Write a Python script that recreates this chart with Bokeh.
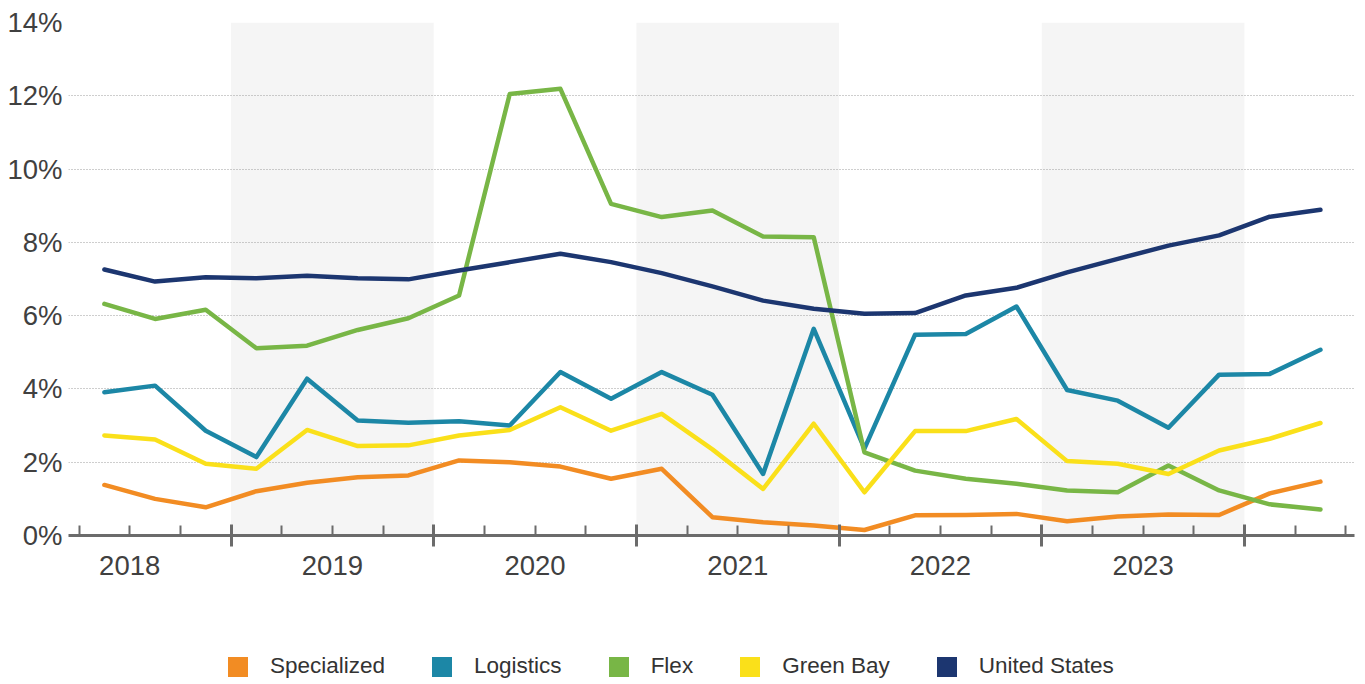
from bokeh.plotting import figure
from bokeh.layouts import column
from bokeh.models import (Range1d, FixedTicker, LinearAxis, PrintfTickFormatter,
                          CustomJSTickFormatter, BoxAnnotation, Legend, LegendItem)
from bokeh.embed import file_html
from bokeh.resources import INLINE

# ---------------- data ----------------
quarters = ["2018Q2", "2018Q3", "2018Q4",
            "2019Q1", "2019Q2", "2019Q3", "2019Q4",
            "2020Q1", "2020Q2", "2020Q3", "2020Q4",
            "2021Q1", "2021Q2", "2021Q3", "2021Q4",
            "2022Q1", "2022Q2", "2022Q3", "2022Q4",
            "2023Q1", "2023Q2", "2023Q3", "2023Q4",
            "2024Q1", "2024Q2"]

specialized = [1.38, 1.00, 0.77, 1.21, 1.44, 1.59, 1.64, 2.05, 2.00, 1.88, 1.55, 1.82,
               0.50, 0.36, 0.27, 0.15, 0.55, 0.56, 0.59, 0.39, 0.52, 0.57, 0.56, 1.15, 1.47]
logistics = [3.91, 4.09, 2.86, 2.14, 4.28, 3.14, 3.08, 3.12, 3.00, 4.46, 3.73, 4.46,
             3.84, 1.68, 5.64, 2.37, 5.48, 5.50, 6.25, 3.97, 3.68, 2.94, 4.39, 4.41, 5.07]
flex = [6.32, 5.91, 6.16, 5.11, 5.18, 5.61, 5.93, 6.55, 12.05, 12.19, 9.05, 8.69,
        8.87, 8.16, 8.14, 2.27, 1.77, 1.55, 1.41, 1.23, 1.18, 1.91, 1.23, 0.85, 0.71]
green_bay = [2.73, 2.62, 1.96, 1.82, 2.88, 2.44, 2.46, 2.73, 2.88, 3.50, 2.86, 3.32,
             2.35, 1.27, 3.05, 1.18, 2.85, 2.85, 3.18, 2.03, 1.96, 1.68, 2.32, 2.64, 3.07]
united_states = [7.26, 6.93, 7.05, 7.02, 7.09, 7.02, 6.99, 7.23, 7.46, 7.69, 7.46, 7.16,
                 6.80, 6.41, 6.19, 6.05, 6.07, 6.55, 6.76, 7.18, 7.55, 7.91, 8.19, 8.70, 8.89]

series_names = ["Specialized", "Logistics", "Flex", "Green Bay", "United States"]
series_values = [specialized, logistics, flex, green_bay, united_states]
series_colors = ["#F28C23", "#1C87A6", "#78B646", "#FAE01A", "#1C3670"]

year_labels = [2018, 2019, 2020, 2021, 2022, 2023]
shaded_years = [2019, 2021, 2023]
y_ticks = [0, 2, 4, 6, 8, 10, 12, 14]

# quarter -> numeric position at the middle of the quarter
x = [int(q[:4]) + (int(q[5]) - 0.5) / 4 for q in quarters]

FONT = "Liberation Sans"
TEXT = "#404040"
AXIS = "#6b6b6b"

p = figure(width=1365, height=600, output_backend="svg", toolbar_location=None,
           x_range=Range1d(2018.198, 2024.543), y_range=Range1d(0, 14),
           min_border_left=68, min_border_right=11, min_border_top=22,
           min_border_bottom=65)
p.outline_line_color = None
p.background_fill_color = "white"
p.border_fill_color = "white"

# shaded year bands
for yr in shaded_years:
    p.add_layout(BoxAnnotation(left=yr, right=yr + 1, bottom=0, top=14,
                               fill_color="#f5f5f5", fill_alpha=1,
                               line_color=None, level="image"))

# grid
p.xgrid.grid_line_color = None
p.ygrid.ticker = FixedTicker(ticks=y_ticks)
p.ygrid.grid_line_color = "#9c9c9c"
p.ygrid.grid_line_dash = "1 2"
p.ygrid.grid_line_width = 1

# y axis
p.yaxis.ticker = FixedTicker(ticks=y_ticks)
p.yaxis.formatter = PrintfTickFormatter(format="%d%%")
p.yaxis.axis_line_color = None
p.yaxis.major_tick_line_color = None
p.yaxis.minor_tick_line_color = None
p.yaxis.major_tick_in = 0
p.yaxis.major_tick_out = 0
p.yaxis.minor_tick_in = 0
p.yaxis.minor_tick_out = 0
p.yaxis.major_label_text_font = FONT
p.yaxis.major_label_text_font_size = "27.5px"
p.yaxis.major_label_text_color = TEXT
p.yaxis.major_label_standoff = 6

# x axis with tick marks (year boundaries + quarter boundaries)
year_bounds = [y + 1 for y in year_labels]
quarter_bounds = [y + k / 4 for y in year_labels + [2024] for k in (1, 2, 3)]
xa = p.xaxis[0]
xa.ticker = FixedTicker(ticks=year_bounds, minor_ticks=quarter_bounds)
xa.formatter = CustomJSTickFormatter(code="return '';")
xa.axis_line_color = AXIS
xa.axis_line_width = 3
xa.major_tick_line_color = AXIS
xa.major_tick_line_width = 3
xa.major_tick_in = 11
xa.major_tick_out = 11
xa.minor_tick_line_color = AXIS
xa.minor_tick_line_width = 2
xa.minor_tick_in = 10
xa.minor_tick_out = 0
xa.major_label_text_color = None
xa.major_label_text_font_size = "1px"
xa.major_label_standoff = 0

# x axis with year labels at year centres
xb = LinearAxis(ticker=FixedTicker(ticks=[y + 0.5 for y in year_labels]),
                formatter=CustomJSTickFormatter(code="return String(Math.floor(tick));"))
xb.axis_line_color = None
xb.major_tick_line_color = None
xb.minor_tick_line_color = None
xb.major_tick_in = 0
xb.major_tick_out = 0
xb.minor_tick_in = 0
xb.minor_tick_out = 0
xb.major_label_standoff = 9
xb.major_label_text_font = FONT
xb.major_label_text_font_size = "27.5px"
xb.major_label_text_color = TEXT
p.add_layout(xb, "below")

for name, vals, col in zip(series_names, series_values, series_colors):
    p.line(x, vals, line_color=col, line_width=4.5, line_join="round", line_cap="round")

# legend strip as its own small figure (proxy swatches lie outside its visible range)
lg = figure(width=1365, height=84, output_backend="svg", toolbar_location=None,
            x_range=Range1d(0, 1), y_range=Range1d(0, 1),
            x_axis_location=None, y_axis_location=None,
            min_border_left=0, min_border_right=0, min_border_top=0, min_border_bottom=0)
lg.outline_line_color = None
lg.xgrid.visible = False
lg.ygrid.visible = False
items = []
for name, col in zip(series_names, series_colors):
    proxy = lg.quad(left=[-3], right=[-2], top=[-2], bottom=[-3],
                    fill_color=col, line_color=None)
    items.append(LegendItem(label=name, renderers=[proxy]))

legend = Legend(items=items, orientation="horizontal", location=(157, 5),
                glyph_width=25, glyph_height=25, label_standoff=20, spacing=44,
                label_text_font=FONT, label_text_font_size="22.5px",
                label_text_color="#333333", border_line_color=None,
                background_fill_alpha=0, padding=0, margin=0)
lg.add_layout(legend, "center")

open("out.html", "w").write(file_html(column(p, lg, spacing=0), INLINE))
